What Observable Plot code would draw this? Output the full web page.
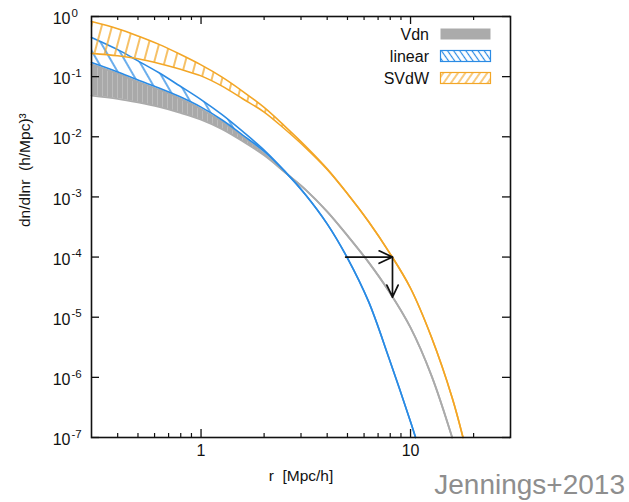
<!DOCTYPE html>
<html>
<head>
<meta charset="utf-8">
<script src="https://cdn.jsdelivr.net/npm/d3@7"></script>
<script src="https://cdn.jsdelivr.net/npm/@observablehq/plot@0.6"></script>
<style>
  body { margin: 0; background: #fff; font-family: "Liberation Sans", Arial, sans-serif; }
  #wrap { position: relative; width: 629px; height: 502px; overflow: hidden; }
  #credit { position: absolute; right: 4px; top: 469px; font-size: 28px; line-height: 32px; color: #8e8e8e; font-family: "Liberation Sans", Arial, sans-serif; }
</style>
</head>
<body>
<div id="wrap"><div id="chart"></div><div id="credit">Jennings+2013</div></div>
<script>
// ---- data (r in Mpc/h, dn/dlnr in (h/Mpc)^3) ----
const vdnR     = [0.3, 0.4, 0.5, 0.63, 0.79, 1, 1.26, 1.58, 2.0, 2.5, 3.16, 4.0, 5.0, 6.3, 7.9, 10, 12.6, 15.8];
const vdnUpper = [0.160, 0.112, 0.0818, 0.0607, 0.0435, 0.0290, 0.0177, 0.0100, 0.00525, 0.00261, 0.00131, 5.70e-4, 2.27e-4, 8.24e-5, 2.67e-5, 6.70e-6, 1.06e-6, 1e-7];
const vdnLower = [0.0485, 0.0428, 0.0372, 0.0313, 0.0252, 0.0193, 0.0134, 0.00843, 0.00491, 0.00261, 0.00131, 5.70e-4, 2.27e-4, 8.24e-5, 2.67e-5, 6.70e-6, 1.06e-6, 1e-7];

const linR     = [0.3, 0.4, 0.5, 0.63, 0.79, 1, 1.26, 1.58, 2.0, 2.5, 3.16, 4.0, 5.0, 6.3, 7.9, 10, 10.57];
const linUpper = [0.448, 0.281, 0.183, 0.116, 0.0705, 0.0415, 0.0233, 0.01225, 0.0060, 0.00271, 0.00108, 3.57e-4, 9.62e-5, 1.83e-5, 2.06e-6, 1.83e-7, 1e-7];
const linLower = [0.172, 0.120, 0.0877, 0.065, 0.0466, 0.0311, 0.0190, 0.01067, 0.00573, 0.00271, 0.00108, 3.57e-4, 9.62e-5, 1.83e-5, 2.06e-6, 1.83e-7, 1e-7];

const svR      = [0.3, 0.4, 0.5, 0.63, 0.79, 1, 1.26, 1.58, 2.0, 2.5, 3.16, 4.0, 5.0, 6.3, 7.9, 10, 12.6, 15.8, 17.8];
const svUpper  = [0.826, 0.627, 0.475, 0.344, 0.238, 0.157, 0.0982, 0.0571, 0.0307, 0.0152, 0.00695, 0.00293, 0.00113, 3.91e-4, 1.21e-4, 3.03e-5, 4.59e-6, 4.59e-7, 1e-7];
const svLower  = [0.244, 0.222, 0.198, 0.166, 0.134, 0.103, 0.0695, 0.0429, 0.0258, 0.0136, 0.00653, 0.00286, 0.00113, 3.91e-4, 1.21e-4, 3.03e-5, 4.59e-6, 4.59e-7, 1e-7];

// arrows: from the linear curve to the SVdW curve at 1e-4, then down to the Vdn curve
const arrowR1 = [4.9, 8.2];
const arrowV1 = [1e-4, 1e-4];
const arrowR2 = [8.2, 8.2];
const arrowV2 = [1e-4, 2.15e-5];

const legendNames = ["Vdn", "linear", "SVdW"];
const xMajor = [1, 10];
const xMajorLabels = ["1", "10"];
const xMinor = [0.4, 0.5, 0.6, 0.7, 0.8, 0.9, 2, 3, 4, 5, 6, 7, 8, 9, 20];
const yMajor = [1, 1e-1, 1e-2, 1e-3, 1e-4, 1e-5, 1e-6, 1e-7];
const yExponents = ["0", "-1", "-2", "-3", "-4", "-5", "-6", "-7"];
const xLabel = "r\u00a0 [Mpc/h]";
const yLabel = "dn/dlnr\u00a0 (h/Mpc)\u00b3";

// ---- styles ----
const GREY = "#ababab", BLUE = "#2b8be4", ORANGE = "#f3a626";
const W = 629, H = 502, ML = 91, MR = 119, MT = 16, MB = 65;
const FW = W - ML - MR, FH = H - MT - MB;
const MAJ = 8, MIN = 4;

const table = (rs, hi, lo) => rs.map((r, i) => ({r, hi: hi[i], lo: lo[i]}));
const vdn = table(vdnR, vdnUpper, vdnLower);
const lin = table(linR, linUpper, linLower);
const sv = table(svR, svUpper, svLower);
const arrows = arrowR1.map((r, i) => ({x1: r, y1: arrowV1[i], x2: arrowR2[i], y2: arrowV2[i]}));
const curve = "catmull-rom";

function band(data, fill, stroke, sw) {
  return [
    Plot.areaY(data, {x: "r", y1: "lo", y2: "hi", fill, curve}),
    Plot.line(data, {x: "r", y: "hi", stroke, strokeWidth: sw, curve}),
    Plot.line(data, {x: "r", y: "lo", stroke, strokeWidth: sw, curve})
  ];
}

const svg = Plot.plot({
  width: W, height: H,
  marginLeft: ML, marginRight: MR, marginTop: MT, marginBottom: MB,
  style: {fontFamily: "'Liberation Sans', Arial, sans-serif", background: "white", color: "#111"},
  x: {type: "log", domain: [0.3, 30], axis: null},
  y: {type: "log", domain: [1e-7, 1], axis: null},
  marks: [
    ...band(vdn, "url(#greyFill)", GREY, 1.8),
    ...band(lin, "url(#hatchBlue)", BLUE, 1.6),
    ...band(sv, "url(#hatchOrange)", ORANGE, 1.6),
    Plot.arrow(arrows, {x1: "x1", y1: "y1", x2: "x2", y2: "y2", stroke: "#111", strokeWidth: 1.7, headLength: 13, headAngle: 50}),
    // ticks (inward, all four sides)
    Plot.tickX(xMajor, {x: d => d, insetTop: FH - MAJ, stroke: "#111", strokeWidth: 1.3}),
    Plot.tickX(xMajor, {x: d => d, insetBottom: FH - MAJ, stroke: "#111", strokeWidth: 1.3}),
    Plot.tickX(xMinor, {x: d => d, insetTop: FH - MIN, stroke: "#111", strokeWidth: 1.2}),
    Plot.tickX(xMinor, {x: d => d, insetBottom: FH - MIN, stroke: "#111", strokeWidth: 1.2}),
    Plot.tickY(yMajor, {y: d => d, insetRight: FW - MAJ, stroke: "#111", strokeWidth: 1.3}),
    Plot.tickY(yMajor, {y: d => d, insetLeft: FW - MAJ, stroke: "#111", strokeWidth: 1.3}),
    Plot.frame({stroke: "#111", strokeWidth: 1.6}),
    // tick labels
    Plot.text(xMajor, {x: d => d, text: (d, i) => xMajorLabels[i], frameAnchor: "bottom", dy: 18, fontSize: 16, fill: "#111"}),
    Plot.text(yMajor, {y: d => d, text: () => "10", frameAnchor: "left", textAnchor: "end", dx: -21, dy: 2.5, fontSize: 16, fill: "#111"}),
    Plot.text(yMajor, {y: d => d, text: (d, i) => yExponents[i], frameAnchor: "left", textAnchor: "start", dx: -20, dy: -3.5, fontSize: 11.5, fill: "#111"}),
    // axis labels
    Plot.text([xLabel], {text: d => d, frameAnchor: "bottom", dy: 43, fontSize: 15.5, fill: "#111"}),
    Plot.text([yLabel], {text: d => d, frameAnchor: "left", rotate: -90, dx: -66, fontSize: 15.5, fill: "#111"})
  ]
});

// fill patterns
const defs = d3.select(svg).insert("defs", ":first-child");
function hatch(id, color, spacing, angle, sw) {
  const p = defs.append("pattern").attr("id", id).attr("patternUnits", "userSpaceOnUse")
    .attr("width", spacing).attr("height", 40).attr("patternTransform", `rotate(${angle})`);
  p.append("line").attr("x1", spacing / 2).attr("x2", spacing / 2).attr("y1", -5).attr("y2", 45)
    .attr("stroke", color).attr("stroke-width", sw);
}
hatch("hatchBlue", BLUE, 12, -30, 1.4);
hatch("hatchOrange", ORANGE, 10, 15, 1.4);
hatch("hatchBlueLeg", BLUE, 5, -35, 1.2);
hatch("hatchOrangeLeg", ORANGE, 6, 35, 1.2);
const gp = defs.append("pattern").attr("id", "greyFill").attr("patternUnits", "userSpaceOnUse").attr("width", 5).attr("height", 40);
gp.append("rect").attr("width", 5).attr("height", 40).attr("fill", "#a9a9a9");
gp.append("rect").attr("x", 2).attr("width", 1).attr("height", 40).attr("fill", "#bcbcbc");

// key (inside top-right of the frame)
const legFill = [GREY, "url(#hatchBlueLeg)", "url(#hatchOrangeLeg)"];
const legStroke = ["none", BLUE, ORANGE];
const leg = d3.select(svg).append("g").attr("font-family", "'Liberation Sans', Arial, sans-serif").attr("font-size", 16);
legendNames.forEach((name, i) => {
  const cy = MT + 18 + i * 22;
  leg.append("text").attr("x", ML + 338).attr("y", cy).attr("dy", "0.36em").attr("text-anchor", "end").attr("fill", "#111").text(name);
  leg.append("rect").attr("x", ML + 349.5).attr("y", cy - 5.5).attr("width", 50).attr("height", 11)
    .attr("fill", legFill[i]).attr("stroke", legStroke[i]).attr("stroke-width", 1.2);
});

document.getElementById("chart").appendChild(svg);
</script>
</body>
</html>
